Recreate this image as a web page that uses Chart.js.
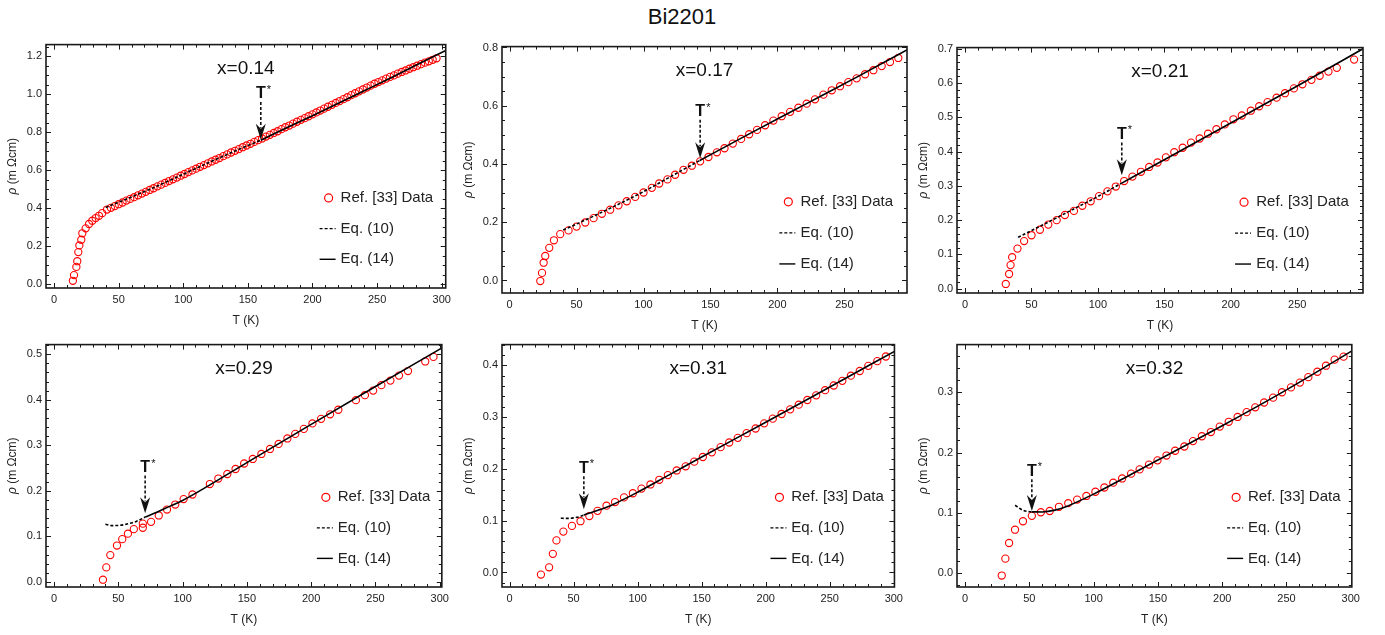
<!DOCTYPE html>
<html>
<head>
<meta charset="utf-8">
<script src="https://cdn.jsdelivr.net/npm/chart.js@4.4.0/dist/chart.umd.min.js"></script>
<style>
  body { margin: 0; background: #fff; width: 1385px; height: 635px; position: relative; overflow: hidden;
         font-family: "Liberation Sans", Arial, Helvetica, sans-serif; }
  #title { position: absolute; left: 0; width: 1364px; top: 4px; line-height: 26px; text-align: center;
           font-size: 22px; color: #111; }
  canvas { position: absolute; }
</style>
</head>
<body>
<div id="title">Bi2201</div>
<script>
// ---- data ----
const doping = ['x=0.14', 'x=0.17', 'x=0.21', 'x=0.29', 'x=0.31', 'x=0.32'];
const legendLabels = ['Ref. [33] Data', 'Eq. (10)', 'Eq. (14)'];
const xTicks = [0, 50, 100, 150, 200, 250, 300];
const yTicks014 = [0, 0.2, 0.4, 0.6, 0.8, 1.0, 1.2];
const yTicks017 = [0, 0.2, 0.4, 0.6, 0.8];
const yTicks021 = [0, 0.1, 0.2, 0.3, 0.4, 0.5, 0.6, 0.7];
const yTicks029 = [0, 0.1, 0.2, 0.3, 0.4, 0.5];
const yTicks031 = [0, 0.1, 0.2, 0.3, 0.4];
const yTicks032 = [0, 0.1, 0.2, 0.3];

// x = 0.14
const t014 = [14.6, 15.5, 17.3, 18.0, 18.8, 19.6, 21.1, 21.9, 24.5, 27.1, 29.6, 32.2, 34.8, 37.3,
  41, 44, 47, 50, 53, 56, 59, 62, 65, 68, 71, 74, 77, 80, 83, 86, 89, 92, 95, 98, 101, 104, 107, 110,
  113, 116, 119, 122, 125, 128, 131, 134, 137, 140, 143, 146, 149, 152, 155, 158, 161, 164, 167, 170,
  173, 176, 179, 182, 185, 188, 191, 194, 197, 200, 203, 206, 209, 212, 215, 218, 221, 224, 227, 230,
  233, 236, 239, 242, 245, 248, 251, 254, 257, 260, 263, 266, 269, 272, 275, 278, 281, 284, 287, 290,
  293, 296];
const rho014 = [0.017, 0.047, 0.090, 0.120, 0.168, 0.203, 0.233, 0.267, 0.293, 0.316, 0.333, 0.347, 0.359, 0.373,
  0.392, 0.401, 0.410, 0.420, 0.429, 0.439, 0.448, 0.457, 0.467, 0.476, 0.485, 0.495, 0.504, 0.514, 0.523,
  0.532, 0.542, 0.551, 0.560, 0.570, 0.579, 0.589, 0.598, 0.607, 0.617, 0.626, 0.635, 0.645, 0.654, 0.663,
  0.673, 0.682, 0.692, 0.701, 0.710, 0.720, 0.729, 0.738, 0.748, 0.757, 0.766, 0.776, 0.785, 0.795, 0.804,
  0.815, 0.825, 0.834, 0.844, 0.854, 0.864, 0.873, 0.883, 0.893, 0.903, 0.913, 0.923, 0.933, 0.943, 0.953,
  0.963, 0.973, 0.983, 0.994, 1.004, 1.014, 1.024, 1.034, 1.044, 1.054, 1.063, 1.072, 1.081, 1.090, 1.098,
  1.107, 1.116, 1.124, 1.133, 1.141, 1.149, 1.157, 1.165, 1.172, 1.180, 1.188];
const eq10T014 = [40, 60, 80, 100, 120, 140, 160];
const eq10Rho014 = [0.403, 0.458, 0.516, 0.578, 0.640, 0.700, 0.757];
const eq14T014 = [160, 180, 200, 220, 240, 260, 280, 304];
const eq14Rho014 = [0.757, 0.822, 0.886, 0.951, 1.017, 1.083, 1.151, 1.232];

// x = 0.17
const t017 = [22.9, 24.2, 25.4, 26.6, 29.6, 33.1, 37.8, 44, 50, 56.5, 62.7, 68.9, 75.1, 81.3, 87.5, 93.8,
  100, 106.2, 111.7, 117.9, 123.6, 129.9, 136.1, 142.3, 148.5, 154.8, 160.5, 166.7, 172.9, 178.9, 184.8,
  190.8, 197, 203.2, 209.5, 215.7, 221.9, 228.1, 234.4, 240.6, 246.8, 253, 259.2, 265.5, 271.7, 277.9,
  284.1, 290.3];
const rho017 = [-0.002, 0.026, 0.061, 0.084, 0.112, 0.138, 0.159, 0.172, 0.185, 0.199, 0.214, 0.229, 0.243,
  0.258, 0.272, 0.287, 0.302, 0.318, 0.333, 0.347, 0.363, 0.380, 0.394, 0.409, 0.424, 0.440, 0.454, 0.470,
  0.486, 0.502, 0.517, 0.533, 0.549, 0.564, 0.579, 0.593, 0.607, 0.622, 0.638, 0.653, 0.667, 0.681, 0.694,
  0.708, 0.722, 0.736, 0.750, 0.764];
const eq10T017 = [40, 60, 80, 100, 120, 142];
const eq10Rho017 = [0.173, 0.215, 0.259, 0.305, 0.356, 0.412];
const eq14T017 = [142, 180, 220, 260, 299];
const eq14Rho017 = [0.412, 0.506, 0.603, 0.700, 0.797];

// x = 0.21
const t021 = [30.7, 33.2, 34.3, 35.5, 39.5, 44.5, 50.1, 56.4, 62.7, 69, 75.2, 82, 88.3, 94.6, 100.9, 107.2,
  113.5, 119.8, 126, 132.4, 138.6, 144.9, 151.2, 157.5, 163.8, 170.1, 176.6, 182.9, 189.2, 195.5, 202, 208.3,
  215.1, 221.4, 227.7, 234.5, 240.8, 247.5, 253.9, 260.7, 266.9, 273.5, 279.8, 292.8];
const rho021 = [0.014, 0.043, 0.069, 0.092, 0.117, 0.139, 0.156, 0.172, 0.187, 0.200, 0.215, 0.227, 0.242,
  0.255, 0.270, 0.284, 0.298, 0.314, 0.327, 0.341, 0.355, 0.368, 0.383, 0.398, 0.411, 0.426, 0.438, 0.452,
  0.465, 0.479, 0.494, 0.505, 0.519, 0.532, 0.544, 0.557, 0.570, 0.584, 0.596, 0.609, 0.621, 0.633, 0.644,
  0.668];
const eq10T021 = [40, 60, 80, 100, 118];
const eq10Rho021 = [0.150, 0.189, 0.229, 0.269, 0.308];
const eq14T021 = [118, 150, 200, 250, 301];
const eq14Rho021 = [0.308, 0.376, 0.483, 0.591, 0.703];

// x = 0.29
const t029 = [38.1, 40.7, 43.8, 49, 53.1, 57.5, 62.1, 69.1, 69.1, 75.5, 81.5, 87.9, 94.3, 100.8, 107.7, 121.2,
  127.8, 134.8, 141.2, 147.9, 154.6, 161.3, 168, 174.7, 181.5, 187.6, 194.3, 201, 207.7, 214.7, 221.1, 234.8,
  241.8, 248.2, 254.6, 261.6, 268.3, 275.3, 288.7, 295.1];
const rho029 = [0.005, 0.032, 0.059, 0.080, 0.094, 0.106, 0.116, 0.119, 0.128, 0.132, 0.146, 0.159, 0.170,
  0.182, 0.192, 0.215, 0.227, 0.237, 0.248, 0.260, 0.270, 0.281, 0.292, 0.303, 0.315, 0.325, 0.336, 0.348,
  0.358, 0.368, 0.378, 0.399, 0.410, 0.420, 0.432, 0.442, 0.453, 0.463, 0.484, 0.494];
const eq10T029 = [40, 45, 50, 56, 64, 71];
const eq10Rho029 = [0.1266, 0.1238, 0.1240, 0.1266, 0.1330, 0.1425];
const eq14T029 = [71, 80, 90, 100, 120, 150, 200, 250, 303];
const eq14Rho029 = [0.1425, 0.153, 0.166, 0.179, 0.211, 0.262, 0.346, 0.429, 0.516];

// x = 0.31
const t031 = [24.5, 30.9, 33.8, 36.6, 42, 48.7, 55.4, 62.3, 68.7, 75.7, 82.4, 89.4, 96.3, 103, 110, 116.9,
  123.6, 130.5, 137.5, 144.2, 150.9, 157.9, 164.8, 171.5, 178.2, 185.1, 192.1, 198.8, 205.5, 212.4, 219.1,
  225.8, 232.5, 239.4, 246.4, 253.1, 259.8, 266.5, 273.4, 280.1, 287.1, 293.8];
const rho031 = [-0.004, 0.010, 0.036, 0.062, 0.079, 0.090, 0.099, 0.109, 0.119, 0.129, 0.136, 0.145, 0.153,
  0.162, 0.170, 0.179, 0.188, 0.197, 0.205, 0.214, 0.223, 0.232, 0.242, 0.251, 0.260, 0.269, 0.278, 0.288,
  0.297, 0.306, 0.315, 0.324, 0.333, 0.342, 0.352, 0.361, 0.370, 0.380, 0.389, 0.399, 0.408, 0.417];
const eq10T031 = [40, 45, 50, 55, 58];
const eq10Rho031 = [0.1047, 0.1045, 0.1055, 0.1080, 0.1110];
const eq14T031 = [58, 70, 80, 100, 125, 150, 200, 250, 302];
const eq14Rho031 = [0.111, 0.121, 0.1305, 0.155, 0.189, 0.223, 0.290, 0.358, 0.429];

// x = 0.32
const t032 = [28.6, 31.4, 34.3, 38.9, 45.1, 52, 59, 65.9, 73.1, 80.3, 87.2, 94.4, 101.4, 108.4, 115.3, 122.2,
  129.2, 135.8, 143.1, 149.7, 156.7, 163.4, 170.6, 177.3, 184.2, 191.2, 198.1, 205.1, 212, 219, 225.7, 232.6,
  239.6, 246.5, 253.5, 260.4, 267, 274, 280.7, 287.4, 294.4];
const rho032 = [-0.004, 0.024, 0.050, 0.072, 0.086, 0.095, 0.101, 0.103, 0.110, 0.116, 0.122, 0.128, 0.135,
  0.142, 0.150, 0.157, 0.165, 0.172, 0.180, 0.187, 0.195, 0.203, 0.210, 0.219, 0.227, 0.234, 0.243, 0.251,
  0.259, 0.267, 0.275, 0.283, 0.291, 0.300, 0.308, 0.316, 0.325, 0.334, 0.344, 0.354, 0.359];
const eq10T032 = [39, 42, 45, 48, 52];
const eq10Rho032 = [0.1126, 0.1080, 0.1044, 0.1025, 0.1016];
const eq14T032 = [52, 60, 70, 80, 100, 125, 150, 200, 250, 302];
const eq14Rho032 = [0.1016, 0.1015, 0.1045, 0.1115, 0.131, 0.159, 0.1875, 0.2445, 0.304, 0.370];

// T* markers: temperature, rho at label, rho at arrow tip
const tStar = [160, 142.3, 118, 70.9, 58, 52];
const tStarLabelRho = [1.0, 0.579, 0.450, 0.251, 0.2015, 0.169];
const tStarTipRho = [0.759, 0.420, 0.331, 0.151, 0.122, 0.103];

// ---- layout (pixels of the plot frames, axis ranges) ----
const frames = [[46, 42, 446, 288], [502, 44, 907, 293], [957, 45, 1363, 293],
                [46, 342, 444, 587], [502, 342, 898, 587], [957, 342, 1355, 587]];
const xRanges = [[-6.2, 303.1], [-5.7, 296.8], [-6.0, 299.5], [-6.2, 301.6], [-5.9, 300.5], [-6.2, 300.8]];
const yRanges = [[-0.021, 1.260], [-0.043, 0.803], [-0.0124, 0.703], [-0.011, 0.521], [-0.028, 0.440], [-0.023, 0.379]];
const yMinorSteps = [0.05, 0.05, 0.02, 0.02, 0.02, 0.02];

const FONT = '"Liberation Sans", Arial, Helvetica, sans-serif';
const INK = '#222';

const panels = [
  [t014, rho014, eq10T014, eq10Rho014, eq14T014, eq14Rho014, yTicks014],
  [t017, rho017, eq10T017, eq10Rho017, eq14T017, eq14Rho017, yTicks017],
  [t021, rho021, eq10T021, eq10Rho021, eq14T021, eq14Rho021, yTicks021],
  [t029, rho029, eq10T029, eq10Rho029, eq14T029, eq14Rho029, yTicks029],
  [t031, rho031, eq10T031, eq10Rho031, eq14T031, eq14Rho031, yTicks031],
  [t032, rho032, eq10T032, eq10Rho032, eq14T032, eq14Rho032, yTicks032]
];

const pts = (xs, ys) => xs.map((x, k) => ({ x: x, y: ys[k] }));

function framePlugin(i, yTicks) {
  return {
    id: 'frame' + i,
    afterDraw(chart) {
      const ctx = chart.ctx;
      const a = chart.chartArea;
      const xs = chart.scales.x, ys = chart.scales.y;
      const w = a.right - a.left, h = a.bottom - a.top;
      ctx.save();

      // frame
      ctx.strokeStyle = '#1a1a1a';
      ctx.lineWidth = 1.6;
      ctx.strokeRect(a.left, a.top, w, h);

      // inward ticks on all four sides
      ctx.lineWidth = 1;
      ctx.beginPath();
      for (let v = -10; v <= 310; v += 10) {
        if (v < xs.min || v > xs.max) continue;
        const px = Math.round(xs.getPixelForValue(v)) + 0.5;
        const len = v % 50 === 0 ? 5 : 3;
        ctx.moveTo(px, a.bottom); ctx.lineTo(px, a.bottom - len);
        ctx.moveTo(px, a.top); ctx.lineTo(px, a.top + len);
      }
      const st = yMinorSteps[i];
      const major = yTicks[1] - yTicks[0];
      for (let k = Math.ceil(ys.min / st); k * st <= ys.max + 1e-9; k++) {
        const v = k * st;
        const py = Math.round(ys.getPixelForValue(v)) + 0.5;
        const r = v / major;
        const len = Math.abs(r - Math.round(r)) < 1e-6 ? 5 : 3;
        ctx.moveTo(a.left, py); ctx.lineTo(a.left + len, py);
        ctx.moveTo(a.right, py); ctx.lineTo(a.right - len, py);
      }
      ctx.stroke();

      // axis titles
      ctx.fillStyle = INK;
      ctx.textBaseline = 'middle';
      ctx.textAlign = 'center';
      ctx.font = '12px ' + FONT;
      ctx.fillText('T (K)', (a.left + a.right) / 2, a.bottom + 33);

      ctx.save();
      ctx.translate(a.left - 33, (a.top + a.bottom) / 2);
      ctx.rotate(-Math.PI / 2);
      ctx.textAlign = 'left';
      ctx.font = 'italic 12px ' + FONT;
      const w1 = ctx.measureText('\u03C1').width;
      ctx.font = '12px ' + FONT;
      const w2 = ctx.measureText(' (m \u03A9cm)').width;
      const x0 = -(w1 + w2) / 2;
      ctx.font = 'italic 12px ' + FONT;
      ctx.fillText('\u03C1', x0, 0);
      ctx.font = '12px ' + FONT;
      ctx.fillText(' (m \u03A9cm)', x0 + w1, 0);
      ctx.restore();

      // panel label
      ctx.textAlign = 'center';
      ctx.font = '19px ' + FONT;
      ctx.fillStyle = '#111';
      ctx.fillText(doping[i], a.left + 0.5 * w, a.top + 0.10 * h);

      // legend
      const lx = a.left + 0.707 * w;
      const tx = a.left + 0.737 * w;
      const rows = [a.top + 0.63 * h, a.top + 0.756 * h, a.top + 0.882 * h];
      ctx.strokeStyle = '#ff0000';
      ctx.lineWidth = 1.2;
      ctx.beginPath();
      ctx.arc(lx, rows[0], 4, 0, Math.PI * 2);
      ctx.stroke();
      ctx.strokeStyle = '#000';
      ctx.lineWidth = 1.4;
      ctx.setLineDash([3, 2]);
      ctx.beginPath();
      ctx.moveTo(lx - 9, rows[1]); ctx.lineTo(lx + 7, rows[1]);
      ctx.stroke();
      ctx.setLineDash([]);
      ctx.beginPath();
      ctx.moveTo(lx - 9, rows[2]); ctx.lineTo(lx + 7, rows[2]);
      ctx.stroke();
      ctx.textAlign = 'left';
      ctx.font = '15px ' + FONT;
      ctx.fillStyle = INK;
      legendLabels.forEach((s, k) => ctx.fillText(s, tx, rows[k]));

      // T* arrow
      const sx = xs.getPixelForValue(tStar[i]);
      const yl = ys.getPixelForValue(tStarLabelRho[i]);
      const yt = ys.getPixelForValue(tStarTipRho[i]);
      ctx.fillStyle = '#111';
      ctx.textAlign = 'center';
      ctx.font = 'bold 16px ' + FONT;
      ctx.fillText('T', sx, yl);
      ctx.textAlign = 'left';
      ctx.font = '11px ' + FONT;
      ctx.fillText('*', sx + 6, yl - 4);
      ctx.strokeStyle = '#111';
      ctx.lineWidth = 1.6;
      ctx.setLineDash([3, 2]);
      ctx.beginPath();
      ctx.moveTo(sx, yl + 8); ctx.lineTo(sx, yt - 12);
      ctx.stroke();
      ctx.setLineDash([]);
      ctx.beginPath();
      ctx.moveTo(sx, yt);
      ctx.lineTo(sx - 5, yt - 16);
      ctx.lineTo(sx, yt - 11);
      ctx.lineTo(sx + 5, yt - 16);
      ctx.closePath();
      ctx.fill();

      ctx.restore();
    }
  };
}

panels.forEach((p, i) => {
  const [L, T, R, B] = frames[i];
  const cv = document.createElement('canvas');
  cv.width = (R - L) + 56;
  cv.height = (B - T) + 50;
  cv.style.left = (L - 46) + 'px';
  cv.style.top = (T - 8) + 'px';
  document.body.appendChild(cv);

  const yTicks = p[6];
  new Chart(cv.getContext('2d'), {
    type: 'scatter',
    data: {
      datasets: [
        {
          label: 'Eq. (14)',
          data: pts(p[4], p[5]),
          showLine: true,
          borderColor: '#000',
          borderWidth: 1.6,
          pointRadius: 0,
          cubicInterpolationMode: 'monotone'
        },
        {
          label: 'Eq. (10)',
          data: pts(p[2], p[3]),
          showLine: true,
          borderColor: '#000',
          borderWidth: 1.6,
          borderDash: [3, 2],
          pointRadius: 0,
          cubicInterpolationMode: 'monotone'
        },
        {
          label: 'Ref. [33] Data',
          data: pts(p[0], p[1]),
          showLine: false,
          pointRadius: 3.6,
          pointBorderWidth: 1.1,
          pointBorderColor: '#ff0000',
          pointBackgroundColor: 'rgba(0,0,0,0)'
        }
      ]
    },
    options: {
      responsive: false,
      devicePixelRatio: 1,
      animation: false,
      events: [],
      layout: { padding: { left: 0, top: 8, right: 10, bottom: 0 } },
      plugins: { legend: { display: false }, tooltip: { enabled: false } },
      scales: {
        x: {
          type: 'linear',
          min: xRanges[i][0],
          max: xRanges[i][1],
          grid: { display: false, drawTicks: false, tickLength: 0 },
          border: { display: false },
          ticks: {
            padding: 5, color: INK, autoSkip: false, maxRotation: 0,
            font: { size: 11, family: FONT },
            callback: v => String(v)
          },
          afterBuildTicks: s => {
            s.ticks = xTicks.filter(v => v >= s.min && v <= s.max).map(v => ({ value: v }));
          },
          afterFit: s => { s.height = 42; }
        },
        y: {
          type: 'linear',
          min: yRanges[i][0],
          max: yRanges[i][1],
          grid: { display: false, drawTicks: false, tickLength: 0 },
          border: { display: false },
          ticks: {
            padding: 4, color: INK, autoSkip: false,
            font: { size: 11, family: FONT },
            callback: v => v.toFixed(1)
          },
          afterBuildTicks: s => {
            s.ticks = yTicks.filter(v => v >= s.min && v <= s.max).map(v => ({ value: v }));
          },
          afterFit: s => { s.width = 46; }
        }
      }
    },
    plugins: [framePlugin(i, yTicks)]
  });
});
</script>
</body>
</html>
